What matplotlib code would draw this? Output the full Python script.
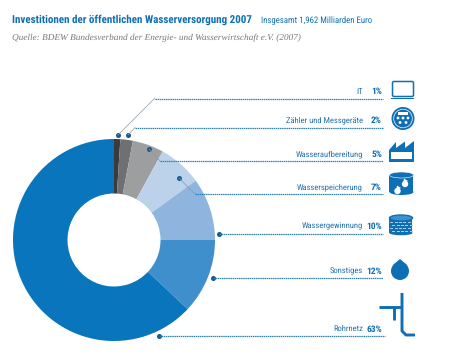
from matplotlib import pyplot as plt
from matplotlib.patches import Circle, Rectangle, Polygon, Ellipse, FancyBboxPatch

# chart values
labels = ["IT", "Zähler und Messgeräte", "Wasseraufbereitung", "Wasserspeicherung",
          "Wassergewinnung", "Sonstiges", "Rohrnetz"]
values = [1, 2, 5, 7, 10, 12, 63]
colors = ["#3b3a3c", "#707073", "#9d9ea0", "#bcd2ea", "#8fb5de", "#3f8fcd", "#0875bd"]
title = "Investitionen der öffentlichen Wasserversorgung 2007"
subtitle = "Insgesamt 1,962 Milliarden Euro"
source = "Quelle: BDEW Bundesverband der Energie- und Wasserwirtschaft e.V. (2007)"

# leader lines: dot, optional bend, height of the label rule
dots = [(118, 135), (128, 135), (149, 149), (179, 178), (219, 233.5), (213, 278), (159, 335.5)]
bends = [(155, 98), (135, 127.5), (160, 161), (195, 194), None, None, None]
rule_y = [98.5, 127.5, 161, 194, 233.5, 278, 336]

BLUE = "#0f6fb5"
W, H = 474, 362
FONT = ["Roboto Condensed", "Roboto"]
plt.rcParams["text.hinting"] = "no_hinting"

fig = plt.figure(figsize=(W / 100, H / 100), dpi=100)
renderer = fig.canvas.get_renderer()


# scale a text so it is as wide as in the reference
def fit(t, width):
    t.set_fontsize(t.get_fontsize() * width / t.get_window_extent(renderer).width)


# donut, placed in pixel coordinates
cx, cy, R = 114, 240, 101
ax_pie = fig.add_axes([(cx - R) / W, 1 - (cy + R) / H, 2 * R / W, 2 * R / H])
ax_pie.pie(values, colors=colors, startangle=90, counterclock=False, radius=1,
           wedgeprops=dict(width=1 - 46.5 / 101, linewidth=0))
ax_pie.set_xlim(-1, 1)
ax_pie.set_ylim(-1, 1)

# everything else in an overlay with y pointing down
ax = fig.add_axes([0, 0, 1, 1], zorder=2)
ax.set_xlim(0, W)
ax.set_ylim(H, 0)
ax.axis("off")

fit(ax.text(12, 20, title, color=BLUE, fontsize=8, fontweight="bold", family=FONT, va="center"), 241)
fit(ax.text(261, 20.5, subtitle, color=BLUE, fontsize=7, family=FONT, va="center"), 111)
fit(ax.text(12, 37.5, source, color="#77787a", fontsize=7, style="italic",
            family="Liberation Serif", va="center"), 290)

label_texts = []
for i in range(len(labels)):
    x0, y0 = dots[i]
    ax.plot(x0, y0, "o", color="#14598f", ms=3.6, mew=0)
    end = 385 if i == 6 else 383
    if bends[i]:
        ax.plot([x0, bends[i][0]], [y0, bends[i][1]], color="#8a9aa8", lw=0.5)
        xs = bends[i][0]
    else:
        xs = x0
    ax.plot([xs, end], [rule_y[i], rule_y[i]], color="#2f7fb8", lw=0.9, ls=(0, (1.2, 0.5)))
    y_txt = rule_y[i] - 7
    ax.text(382, y_txt, f"{values[i]}%", color=BLUE, fontsize=6.8, fontweight="bold",
            family=FONT, ha="right", va="center")
    label_texts.append(ax.text(363, y_txt, labels[i], color="#2272ae", fontsize=7,
                               family=FONT, ha="right", va="center"))

# one size for all labels, taken from the longest one
fit(label_texts[1], 77)
for t in label_texts:
    t.set_fontsize(label_texts[1].get_fontsize())

# icons
# laptop
ax.add_patch(FancyBboxPatch((392.5, 81.5), 21, 15, boxstyle="round,pad=0,rounding_size=1.5",
                            fc="white", ec=BLUE, lw=1.1))
ax.add_patch(Rectangle((391.5, 97.5), 23, 1.8, fc=BLUE, ec="none"))
# meter
ax.add_patch(Circle((403, 118.5), 11.5, fc=BLUE, ec="none"))
ax.add_patch(Circle((403, 118.5), 9.3, fc="none", ec="white", lw=0.5))
ax.add_patch(Rectangle((398, 112), 10, 2.8, fc="white", ec="none"))
for px, py in [(398, 118), (403, 118), (408, 118), (400, 122.5), (406, 122.5)]:
    ax.add_patch(Circle((px, py), 1.4, fc="white", ec="none"))
# factory
ax.add_patch(Polygon([(389, 162), (389, 150), (396, 142), (396, 148), (405, 141.5), (405, 148),
                      (414, 141), (414, 162)], fc=BLUE, ec="none"))
ax.add_patch(Rectangle((391, 152), 21, 7, fc="white", ec="none"))
# tank
ax.add_patch(Rectangle((389.5, 175), 24, 17, fc=BLUE, ec="none"))
ax.add_patch(Ellipse((401.5, 192), 24, 6, fc=BLUE, ec="none"))
ax.add_patch(Ellipse((401.5, 175), 24, 6, fc=BLUE, ec="white", lw=0.4))
ax.add_patch(Circle((405, 184), 3.2, fc="white", ec="none"))
ax.add_patch(Polygon([(404, 178.5), (408, 181), (403, 184)], fc="white", ec="none"))
ax.add_patch(Circle((397.5, 191), 3.2, fc="white", ec="none"))
ax.add_patch(Polygon([(397, 185.5), (401, 188), (396, 191)], fc="white", ec="none"))
# brick well
ax.add_patch(Rectangle((389.5, 218), 23, 15, fc=BLUE, ec="none"))
ax.add_patch(Ellipse((401, 233), 23, 4.5, fc=BLUE, ec="none"))
ax.add_patch(Ellipse((401, 218), 23, 6, fc="#3f8fcd", ec=BLUE, lw=1))
for row in range(4):
    for col in range(5):
        ax.add_patch(Rectangle((390.5 + col * 4.3 + (row % 2) * 2, 222 + row * 3), 3, 1.4,
                               fc="#a9cbea", ec="none"))
# drop
ax.add_patch(Circle((400, 271), 9, fc=BLUE, ec="none"))
ax.add_patch(Polygon([(393, 265), (400, 259), (407, 265)], fc=BLUE, ec="none"))
# pipe
ax.plot([379, 402], [306.7, 306.7], color=BLUE, lw=2.1, solid_capstyle="butt")
ax.plot([393.7, 393.7], [306.7, 319.5], color=BLUE, lw=2.1, solid_capstyle="butt")
ax.plot([402, 402, 406, 415], [293, 331, 335, 335], color=BLUE, lw=2.1, solid_capstyle="butt")

fig.savefig("out.png", dpi=100, facecolor="white")
